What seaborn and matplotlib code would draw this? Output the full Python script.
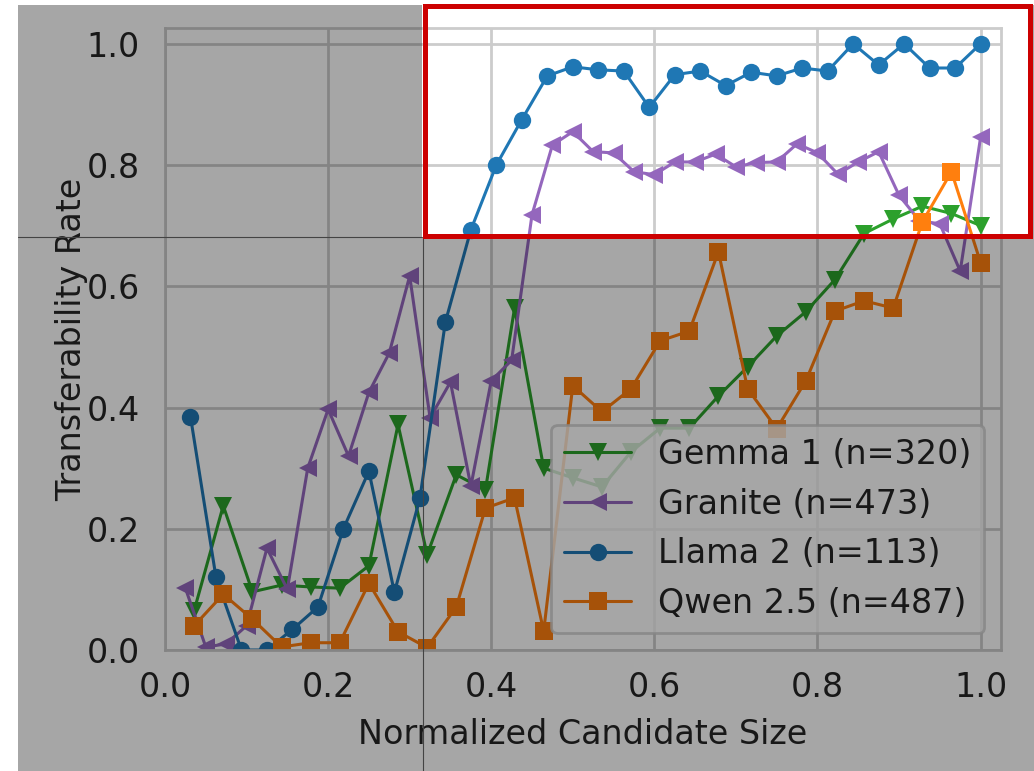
import numpy as np
import pandas as pd
import matplotlib
matplotlib.use("Agg")
import matplotlib.pyplot as plt
import seaborn as sns
from matplotlib.patches import Rectangle
from matplotlib.lines import Line2D

# ── data ──
gemma_x = [k / 28 for k in range(1, 29)]
gemma_y = [0.065, 0.238, 0.096, 0.107, 0.104, 0.102, 0.139, 0.372, 0.157, 0.289,
           0.264, 0.564, 0.300, 0.284, 0.269, 0.327, 0.366, 0.366, 0.419, 0.467,
           0.518, 0.558, 0.611, 0.687, 0.711, 0.732, 0.720, 0.700]

granite_x = [k / 40 for k in range(1, 41)]
granite_y = [0.102, 0.005, 0.010, 0.040, 0.168, 0.100, 0.300, 0.397, 0.320, 0.425,
             0.490, 0.617, 0.383, 0.442, 0.270, 0.444, 0.478, 0.718, 0.833, 0.855,
             0.822, 0.820, 0.789, 0.784, 0.805, 0.805, 0.818, 0.797, 0.804, 0.805,
             0.835, 0.820, 0.785, 0.805, 0.822, 0.750, 0.708, 0.703, 0.625, 0.846]

llama_x = [k / 32 for k in range(1, 33)]
llama_y = [0.385, 0.120, 0.000, 0.000, 0.034, 0.071, 0.200, 0.295, 0.095, 0.250,
           0.541, 0.693, 0.800, 0.875, 0.947, 0.962, 0.957, 0.955, 0.895, 0.949,
           0.955, 0.931, 0.953, 0.947, 0.960, 0.955, 1.000, 0.965, 1.000, 0.960,
           0.960, 1.000]

qwen_x = [k / 28 for k in range(1, 29)]
qwen_y = [0.040, 0.092, 0.051, 0.005, 0.012, 0.012, 0.110, 0.030, 0.004, 0.071,
          0.234, 0.251, 0.031, 0.436, 0.393, 0.431, 0.510, 0.526, 0.657, 0.431,
          0.365, 0.444, 0.559, 0.576, 0.564, 0.706, 0.789, 0.639]

labels = ["Gemma 1 (n=320)", "Granite (n=473)", "Llama 2 (n=113)", "Qwen 2.5 (n=487)"]
colors = ["#2ca02c", "#9467bd", "#1f77b4", "#ff7f0e"]
markers = ["v", "<", "o", "s"]

# ── plot ──
sns.set_theme(style="whitegrid", rc={"grid.linewidth": 2.0, "axes.linewidth": 2.0})
plt.rcParams['font.family'] = ['DejaVu Sans']

W, H = 1034, 771
fig = plt.figure(figsize=(W / 100, H / 100), dpi=100)
ax = fig.add_axes([165 / W, 1 - 650 / H, (1001 - 165) / W, (650 - 28) / H])

series = [(gemma_x, gemma_y), (granite_x, granite_y), (llama_x, llama_y), (qwen_x, qwen_y)]
for (xs, ys), lab, col, mk in zip(series, labels, colors, markers):
    sns.lineplot(x=xs, y=ys, ax=ax, color=col, marker=mk, label=lab,
                 linewidth=2.2, markersize=12.5, markeredgewidth=0)

ax.set_xlim(0, 1.025)
ax.set_ylim(0, 1.026)
ax.set_xticks([0, 0.2, 0.4, 0.6, 0.8, 1.0])
ax.set_yticks([0, 0.2, 0.4, 0.6, 0.8, 1.0])
ax.set_xticklabels(["0.0", "0.2", "0.4", "0.6", "0.8", "1.0"])
ax.set_yticklabels(["0.0", "0.2", "0.4", "0.6", "0.8", "1.0"])
ax.tick_params(axis="x", labelsize=24, length=0, pad=15)
ax.tick_params(axis="y", labelsize=24, length=0, pad=18)
ax.set_xlabel("Normalized Candidate Size", fontsize=24, labelpad=10)
ax.set_ylabel("Transferability Rate", fontsize=24, labelpad=-1)
leg = ax.legend(loc="lower right", fontsize=24)
leg.get_frame().set_linewidth(2.0)

# ── dimming overlay around the highlighted box (pixel coords -> figure fraction) ──
def px_rect(x0, y0, x1, y1, **kw):
    return Rectangle((x0 / W, 1 - y1 / H), (x1 - x0) / W, (y1 - y0) / H,
                     transform=fig.transFigure, **kw)

for r in [(18, 5, 422, 771), (422, 238, 1034, 771), (1032, 5, 1034, 238)]:
    fig.add_artist(px_rect(*r, facecolor="black", alpha=0.35, edgecolor="none", zorder=50))

fig.add_artist(px_rect(424.5, 6.5, 1029.5, 235.5, facecolor="none",
                       edgecolor="#cc0000", linewidth=3.6, zorder=60))

fig.add_artist(Line2D([18 / W, 422 / W], [1 - 236.5 / H, 1 - 236.5 / H],
                      transform=fig.transFigure, color="#444444", linewidth=0.8, zorder=55))
fig.add_artist(Line2D([423 / W, 423 / W], [1 - 238 / H, 0],
                      transform=fig.transFigure, color="#444444", linewidth=0.8, zorder=55))

fig.savefig("out.png", dpi=100)
